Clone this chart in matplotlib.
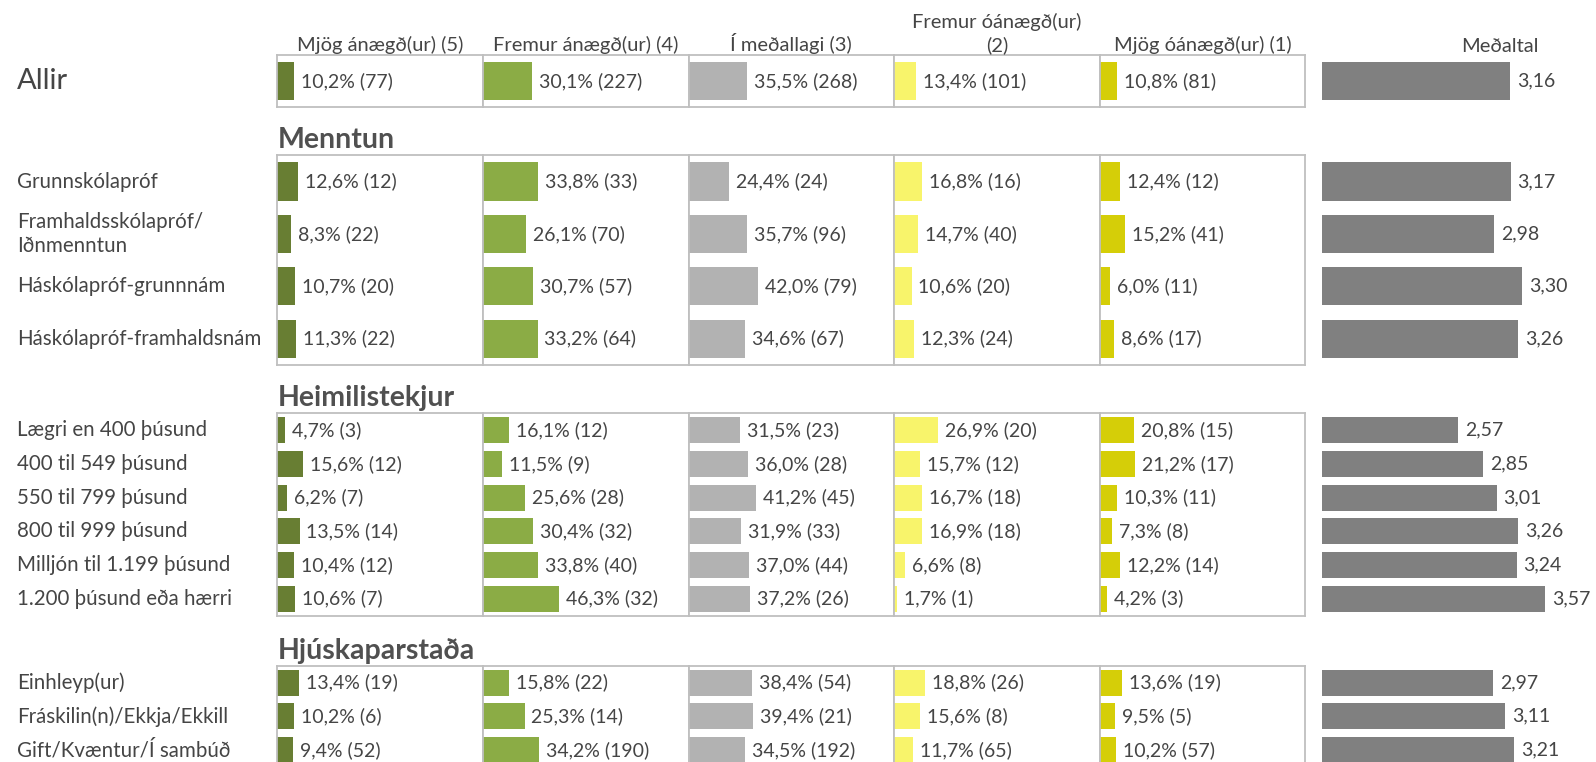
import matplotlib
matplotlib.use('Agg')
import matplotlib.pyplot as plt
import matplotlib.transforms as mtransforms
import numpy as np

plt.rcParams['font.family'] = ['Lato', 'DejaVu Sans']

# column headers and colours
headers = ['Mjög ánægð(ur) (5)', 'Fremur ánægð(ur) (4)', 'Í meðallagi (3)',
           'Fremur óánægð(ur)\n(2)', 'Mjög óánægð(ur) (1)']
colors = ['#687E33', '#8BAC45', '#B2B2B2', '#F8F46B', '#D5CE08']
mean_color = '#808080'

# data
allir_labels = ['Allir']
allir_pct = [[10.2, 30.1, 35.5, 13.4, 10.8]]
allir_n = [[77, 227, 268, 101, 81]]
allir_mean = [3.16]

menntun_labels = ['Grunnskólapróf', 'Framhaldsskólapróf/\nIðnmenntun',
                  'Háskólapróf-grunnnám', 'Háskólapróf-framhaldsnám']
menntun_pct = [[12.6, 33.8, 24.4, 16.8, 12.4],
               [8.3, 26.1, 35.7, 14.7, 15.2],
               [10.7, 30.7, 42.0, 10.6, 6.0],
               [11.3, 33.2, 34.6, 12.3, 8.6]]
menntun_n = [[12, 33, 24, 16, 12],
             [22, 70, 96, 40, 41],
             [20, 57, 79, 20, 11],
             [22, 64, 67, 24, 17]]
menntun_mean = [3.17, 2.98, 3.30, 3.26]

tekjur_labels = ['Lægri en 400 þúsund', '400 til 549 þúsund', '550 til 799 þúsund',
                 '800 til 999 þúsund', 'Milljón til 1.199 þúsund', '1.200 þúsund eða hærri']
tekjur_pct = [[4.7, 16.1, 31.5, 26.9, 20.8],
              [15.6, 11.5, 36.0, 15.7, 21.2],
              [6.2, 25.6, 41.2, 16.7, 10.3],
              [13.5, 30.4, 31.9, 16.9, 7.3],
              [10.4, 33.8, 37.0, 6.6, 12.2],
              [10.6, 46.3, 37.2, 1.7, 4.2]]
tekjur_n = [[3, 12, 23, 20, 15],
            [12, 9, 28, 12, 17],
            [7, 28, 45, 18, 11],
            [14, 32, 33, 18, 8],
            [12, 40, 44, 8, 14],
            [7, 32, 26, 1, 3]]
tekjur_mean = [2.57, 2.85, 3.01, 3.26, 3.24, 3.57]

hjusk_labels = ['Einhleyp(ur)', 'Fráskilin(n)/Ekkja/Ekkill', 'Gift/Kvæntur/Í sambúð']
hjusk_pct = [[13.4, 15.8, 38.4, 18.8, 13.6],
             [10.2, 25.3, 39.4, 15.6, 9.5],
             [9.4, 34.2, 34.5, 11.7, 10.2]]
hjusk_n = [[19, 22, 54, 26, 19],
           [6, 14, 21, 8, 5],
           [52, 190, 192, 65, 57]]
hjusk_mean = [2.97, 3.11, 3.21]

# (title, labels, pct, n, mean, box top px, row pitch px, bar height)
groups = [
    (None, allir_labels, allir_pct, allir_n, allir_mean, 55, 52, 0.74),
    ('Menntun', menntun_labels, menntun_pct, menntun_n, menntun_mean, 155.3, 52.4, 0.73),
    ('Heimilistekjur', tekjur_labels, tekjur_pct, tekjur_n, tekjur_mean, 413.3, 33.7, 0.77),
    ('Hjúskaparstaða', hjusk_labels, hjusk_pct, hjusk_n, hjusk_mean, 665.7, 33.7, 0.77),
]

W, H = 1596, 762
txt = '#454545'
edge = '#BFBFBF'
panel_left, panel_w = 277.3, 205.6
mean_left, mean_w = 1322, 274
px_per_unit = 86.9

fig = plt.figure(figsize=(W / 100, H / 100), dpi=100)


def add_ax(left, top, width, height):
    return fig.add_axes([left / W, 1 - (top + height) / H, width / W, height / H])


def fy(y):
    return 1 - y / H


for title, labels, pct, cnt, means, top, pitch, bh in groups:
    pct = np.array(pct)
    cnt = np.array(cnt)
    n = len(labels)
    y = np.arange(n)
    box_h = n * pitch
    first_ax = None
    for j in range(5):
        ax = add_ax(panel_left + j * panel_w, top, panel_w, box_h)
        ax.barh(y, pct[:, j], height=bh, color=colors[j])
        ax.set_xlim(0, 125)
        ax.set_ylim(n - 0.5, -0.5)
        ax.set_xticks([])
        ax.set_yticks([])
        for s in ax.spines.values():
            s.set_color(edge)
            s.set_linewidth(1.3)
        for i in range(n):
            lab = '%s%% (%d)' % (('%.1f' % pct[i, j]).replace('.', ','), cnt[i, j])
            ax.annotate(lab, xy=(pct[i, j], i), xytext=(5, 0), textcoords='offset points',
                        va='center', ha='left', fontsize=14, color=txt)
        if j == 0:
            first_ax = ax

    # mean column
    ax = add_ax(mean_left, top, mean_w, box_h)
    m = np.array(means)
    ax.barh(y, m - 1, left=1, height=bh, color=mean_color)
    ax.set_xlim(1, 1 + mean_w / px_per_unit)
    ax.set_ylim(n - 0.5, -0.5)
    ax.axis('off')
    for i in range(n):
        ax.annotate(('%.2f' % m[i]).replace('.', ','), xy=(m[i], i), xytext=(5, 0),
                    textcoords='offset points', va='center', ha='left', fontsize=14, color=txt)

    # row labels
    trans = mtransforms.blended_transform_factory(fig.transFigure, first_ax.transData)
    for i, lab in enumerate(labels):
        fs = 21 if title is None else 14.8
        first_ax.text(17 / W, i, lab, transform=trans, ha='left', va='center',
                      fontsize=fs, color=txt, linespacing=1.25, clip_on=False)

    if title:
        fig.text(panel_left / W, fy(top - 7), title, ha='left', va='baseline',
                 fontsize=20.5, fontweight='bold', color='#505050')

# column headers
for j, h in enumerate(headers):
    fig.text((panel_left + (j + 0.5) * panel_w) / W, fy(54.5), h, ha='center', va='bottom',
             fontsize=14.5, color=txt, linespacing=1.4)
fig.text(1500 / W, fy(54.5), 'Meðaltal', ha='center', va='bottom', fontsize=14.5, color=txt)

fig.savefig('out.png', dpi=100)
